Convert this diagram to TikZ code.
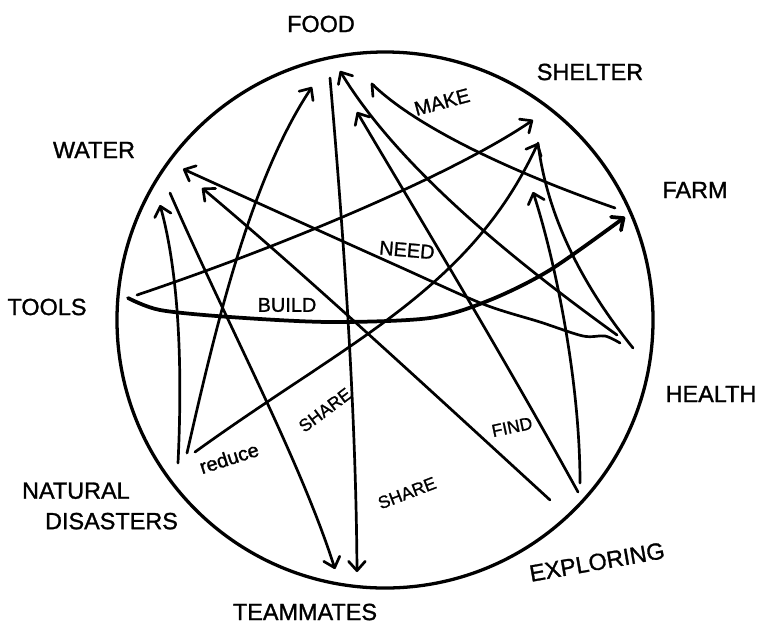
\documentclass[tikz,border=0pt]{standalone}
\usepackage{fontspec}
\setmainfont{Liberation Sans}[BoldFont=Liberation Sans, BoldFeatures={FakeBold=1.2}]
\usetikzlibrary{arrows.meta,positioning}

\begin{document}
\begin{tikzpicture}[
    x=0.03cm, y=-0.03cm,
    topic/.style={font=\fontsize{20}{26}\selectfont\bfseries, inner sep=0pt, align=center},
    verb/.style={font=\fontsize{17}{19}\selectfont\bfseries, inner sep=0pt},
    small/.style={font=\fontsize{15}{17}\selectfont\bfseries, inner sep=0pt},
    ring/.style={line width=2.8pt},
    link/.style={line width=2.3pt, line cap=round},
    arr/.style={link, -{Straight Barb[length=2.8mm, width=5mm, round]}},
    hook/.style={link, -{Straight Barb[length=2.8mm, width=5mm, round, harpoon]}}
]
    \useasboundingbox (0,0) rectangle (760,631);

    % Outer ring
    \coordinate (hub) at (385,320);
    \draw[ring] (hub) circle[radius=8.04cm];

    % Topics around the ring
    \node[topic] (food)      at (321,24)  {FOOD};
    \node[topic] (shelter)   at (590,72)  {SHELTER};
    \node[topic] (water)     at (94,150)  {WATER};
    \node[topic] (farm)      at (695,190) {FARM};
    \node[topic] (tools)     at (47,307)  {TOOLS};
    \node[topic] (health)    at (711,394) {HEALTH};
    \node[topic, align=left] (disasters) at (100,506) {NATURAL\\\hspace*{0.69cm}DISASTERS};
    \node[topic, rotate=10] (exploring) at (597,562) {EXPLORING};
    \node[topic] (teammates) at (305,612) {TEAMMATES};

    % Ends of the links
    \coordinate (food-a) at (340,71);
    \coordinate (food-b) at (312,87);
    \coordinate (food-c) at (357,112);
    \coordinate (food-d) at (371,83);
    \coordinate (food-e) at (330,78);
    \coordinate (shelter-a) at (533,120);
    \coordinate (shelter-b) at (538,143);
    \coordinate (shelter-c) at (533,192);
    \coordinate (farm-a) at (625,217);
    \coordinate (farm-b) at (615,208);
    \coordinate (water-a) at (183,169);
    \coordinate (water-b) at (202,188);
    \coordinate (water-c) at (160,205);
    \coordinate (water-d) at (170,193);
    \coordinate (tools-a) at (137,295);
    \coordinate (tools-b) at (128,298);
    \coordinate (health-a) at (633,348);
    \coordinate (health-b) at (617,335);
    \coordinate (health-c) at (620,343);
    \coordinate (disasters-a) at (178,463);
    \coordinate (disasters-b) at (187,453);
    \coordinate (disasters-c) at (195,452);
    \coordinate (exploring-a) at (578,492);
    \coordinate (exploring-b) at (580,483);
    \coordinate (exploring-c) at (550,500);
    \coordinate (teammates-a) at (335,569);
    \coordinate (teammates-b) at (357,572);

    % Links
    \draw[arr] (tools-a) .. controls (300,240) and (460,170) .. (shelter-a);
    \draw[arr, line width=3.2pt] plot[smooth] coordinates {(tools-b) (160,310) (230,317) (330,322) (430,318) (490,300) (550,270) (farm-a)};
    \draw[arr] (food-e) .. controls (345,250) and (356,420) .. (teammates-b);
    \draw[arr] (water-d) .. controls (230,330) and (300,460) .. (teammates-a);
    \draw[arr] (disasters-a) .. controls (183,360) and (178,270) .. (water-c);
    \draw[arr] (disasters-b) .. controls (215,330) and (250,180) .. (food-b);
    \draw[arr] (disasters-c) .. controls (350,340) and (470,290) .. (shelter-b);
    \draw[link] (health-a) .. controls (570,270) and (545,200) .. (shelter-b);
    \draw[arr] (health-b) .. controls (520,265) and (400,170) .. (food-a);
    \draw[arr] (exploring-a) .. controls (500,350) and (400,185) .. (food-c);
    \draw[hook] (farm-b) .. controls (520,175) and (420,130) .. (food-d);
    \draw[arr] (exploring-b) .. controls (580,380) and (555,260) .. (shelter-c);
    \draw[arr] (exploring-c) .. controls (430,390) and (300,270) .. (water-b);
    \draw[arr] plot[smooth] coordinates {(health-c) (605,336) (583,336) (540,322) (483,304) (400,267) (300,222) (water-a)};

    % Link labels
    \node[verb, rotate=15] (make) at (442,102) {MAKE};
    \node[verb, rotate=-5] (need) at (407,250) {NEED};
    \node[verb] (build) at (287,305) {BUILD};
    \node[small, rotate=37] (share-a) at (325,410) {SHARE};
    \node[small, rotate=21] (share-b) at (407,493) {SHARE};
    \node[small, rotate=12] (find) at (512,427) {FIND};
    \node[verb, rotate=18] (reduce) at (229,458) {reduce};
\end{tikzpicture}
\end{document}
